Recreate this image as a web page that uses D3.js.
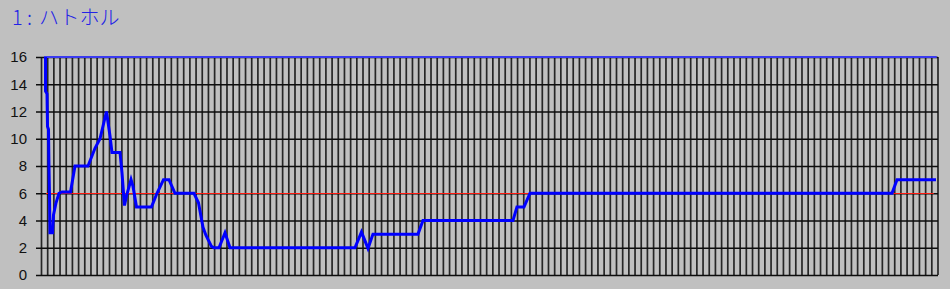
<!DOCTYPE html>
<html>
<head>
<meta charset="utf-8">
<script src="https://cdn.jsdelivr.net/npm/d3@7"></script>
<style>
  html, body { margin: 0; padding: 0; background: #c0c0c0; }
  svg { display: block; }
</style>
</head>
<body>
<svg id="chart"></svg>
<script>
// chart values
var titleParts = ['1', ':', 'ハトホル'];
var yTicks = [0, 2, 4, 6, 8, 10, 12, 14, 16];
var gridSteps = d3.range(0, 146);          // one vertical grid line per time step
var refLevel = 6;                           // red reference level
var capLevel = 16;                          // upper cap line
var refRange = [0.73, 144.3];
var capRange = [0.4, 144.8];

// blue series: time step (in grid steps) and value
var steps = [0.65, 0.65, 0.89, 0.97, 1.13, 1.21, 1.29, 1.37, 1.78, 1.94, 2.35, 2.83, 3.32, 4.69, 5.42,
    7.52, 8.65, 9.46, 10.51, 11.08, 11.40, 12.70, 13.02, 13.42, 13.75, 14.48, 14.80, 15.36, 17.79,
    18.68, 19.73, 20.62, 21.59, 24.66, 25.39, 26.12, 26.61, 27.49, 27.90, 28.71, 29.68, 30.49,
    50.70, 51.75, 52.81, 53.61, 60.89, 61.70, 76.26, 76.90, 78.04, 79.01, 137.56, 138.37, 144.68];
var values = [16, 13.5, 13.3, 10.9, 10.7, 7.9, 6, 3.1, 3.1, 4.4, 5.3, 6, 6.1, 6.1, 8,
    8, 9.3, 10, 12, 10.2, 9, 9, 7.5, 5.1, 5.8, 7, 6.5, 5, 5,
    6, 7, 7, 6, 6, 5.3, 3.5, 2.9, 2.1, 2, 2, 3.1, 2,
    2, 3.15, 1.95, 3, 3, 4, 4, 5, 5, 6, 6, 7, 7];

var width = 950, height = 289;
var plotLeft = 41.5, plotRight = 938, plotTop = 57, plotBottom = 275;

var svg = d3.select('#chart').attr('width', width).attr('height', height);

svg.append('rect')
    .attr('width', width)
    .attr('height', height)
    .attr('fill', '#c0c0c0');

var x = d3.scaleLinear().domain([0, 145]).range([plotLeft, plotRight]);
var y = d3.scaleLinear().domain([0, 16]).range([plotBottom, plotTop]);

// title, pieces placed like the original's wide spacing
var titleX = [12, 27, 39];
svg.append('text')
    .attr('y', 25)
    .attr('fill', '#2323e6')
    .attr('font-family', '"Noto Sans CJK JP", sans-serif')
    .attr('font-weight', 300)
    .attr('font-size', 20)
    .selectAll('tspan')
    .data(titleParts)
    .enter().append('tspan')
    .attr('x', function(d, i) { return titleX[i]; })
    .text(function(d) { return d; });

// vertical grid
svg.append('g')
    .selectAll('line')
    .data(gridSteps)
    .enter().append('line')
    .attr('x1', function(d) { return x(d); })
    .attr('x2', function(d) { return x(d); })
    .attr('y1', y(16))
    .attr('y2', y(0))
    .attr('stroke', '#262626')
    .attr('stroke-width', 1.7);

// horizontal grid + labels
var yAxis = svg.append('g')
    .attr('transform', 'translate(36,0)')
    .call(d3.axisLeft(y)
        .tickValues(yTicks)
        .tickSize(-(plotRight - 36))
        .tickPadding(9)
        .tickFormat(d3.format('d')));
yAxis.select('.domain').remove();
yAxis.selectAll('.tick line')
    .attr('stroke', '#0d0d0d')
    .attr('stroke-width', 1.7);
yAxis.selectAll('.tick text')
    .attr('fill', '#111')
    .attr('font-family', '"Liberation Sans", Arial, sans-serif')
    .attr('font-size', 15);

// red reference line
svg.append('line')
    .attr('x1', x(refRange[0]))
    .attr('x2', x(refRange[1]))
    .attr('y1', Math.round(y(refLevel)) + 0.5)
    .attr('y2', Math.round(y(refLevel)) + 0.5)
    .attr('stroke', '#ff1a10')
    .attr('stroke-width', 1);

// blue cap line
svg.append('line')
    .attr('x1', x(capRange[0]))
    .attr('x2', x(capRange[1]))
    .attr('y1', y(capLevel))
    .attr('y2', y(capLevel))
    .attr('stroke', '#3a3af0')
    .attr('stroke-width', 2);

var line = d3.line()
    .x(function(d, i) { return x(steps[i]); })
    .y(function(d) { return y(d); });

svg.append('path')
    .datum(values)
    .attr('d', line)
    .attr('fill', 'none')
    .attr('stroke', '#0000ff')
    .attr('stroke-width', 3)
    .attr('stroke-linejoin', 'miter');
</script>
</body>
</html>
